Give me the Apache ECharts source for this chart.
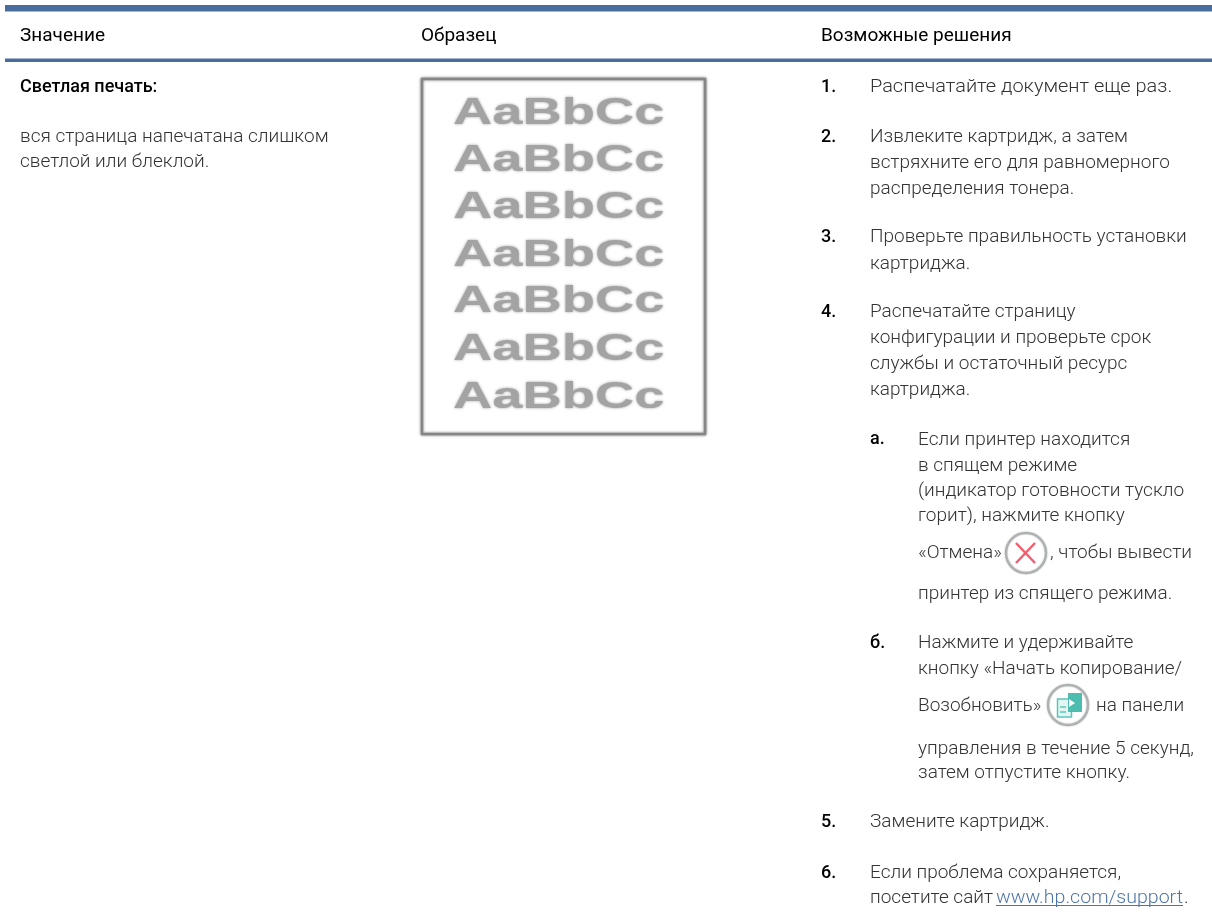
<!DOCTYPE html>
<html><head><meta charset="utf-8">
<style>html,body{margin:0;padding:0;background:#fff}#c{width:1212px;height:918px}</style>
<script src="https://cdn.jsdelivr.net/npm/echarts@6/dist/echarts.min.js"></script>
</head><body><div id="c"></div>
<script>
const headers = ['Значение','Образец','Возможные решения'];
const meaningTitle = 'Светлая печать:';
const meaningBody = ['вся страница напечатана слишком','светлой или блеклой.'];
const sampleText = 'AaBbCc';
const sampleRows = 7;
const stepMarks = ['1.','2.','3.','4.','5.','6.'];
const subMarks = ['а.','б.'];
const step1 = ['Распечатайте документ еще раз.'];
const step2 = ['Извлеките картридж, а затем','встряхните его для равномерного','распределения тонера.'];
const step3 = ['Проверьте правильность установки','картриджа.'];
const step4 = ['Распечатайте страницу','конфигурации и проверьте срок','службы и остаточный ресурс','картриджа.'];
const subA = ['Если принтер находится','в спящем режиме','(индикатор готовности тускло','горит), нажмите кнопку'];
const subA2 = ['«Отмена»',', чтобы вывести','принтер из спящего режима.'];
const subB = ['Нажмите и удерживайте','кнопку «Начать копирование/'];
const subB2 = ['Возобновить»','на панели','управления в течение 5 секунд,','затем отпустите кнопку.'];
const step5 = ['Замените картридж.'];
const step6 = ['Если проблема сохраняется,','посетите сайт '];
const linkText = 'www.hp.com/support';

const FONT = 'Roboto';
const SIZE = 19;
const INK = '#333', DARK = '#000', RULE = '#4a6d9f', LINK = '#4f74a8';
const g = [];
function T(s,x,y,o){o=o||{};const e={type:'text',x:x,y:y+1,z:5,style:{text:s,fill:o.fill||INK,font:(o.weight||300)+' '+(o.size||SIZE)+'px '+FONT,textVerticalAlign:'middle',textBaseline:'middle'}};if(o.sx)e.scaleX=o.sx;g.push(e);}
function B(s,x,y){T(s,x,y,{fill:DARK,weight:500,size:18});}
function R(x,y,w,h,fill){g.push({type:'rect',shape:{x:x,y:y,width:w,height:h},style:{fill:fill}});}
function lines(arr,x,ys,o){arr.forEach((s,i)=>T(s,x,ys[i],o));}

R(5,5,1207,6.5,RULE); R(5,58.5,1207,3.5,RULE);
const hx=[20,421,821]; headers.forEach((h,i)=>T(h,hx[i],35,{fill:DARK,weight:400}));

B(meaningTitle,20,86);
lines(meaningBody,20,[136,161]);

// sample
g.push({type:'rect',shape:{x:422,y:79,width:283,height:355},style:{fill:'#fff',stroke:'#858585',lineWidth:2.5,shadowColor:'rgba(0,0,0,0.45)',shadowBlur:3}});
const sampleY=[113,160,207,255,301,349,397];
for(let i=0;i<sampleRows;i++){g.push({type:'text',x:453,y:sampleY[i]+1,scaleX:1.47,z:4,style:{text:sampleText,fill:'#a3a3a3',font:'bold 37px "Liberation Sans"',textBaseline:'middle',textVerticalAlign:'middle',textShadowColor:'#a3a3a3',textShadowBlur:3}});}

// steps
const nx=821,tx=870,stx=918;
[86,136,236,311,821,872].forEach((y,i)=>B(stepMarks[i],nx,y));
lines(step1,tx,[86],{sx:1.05});
lines(step2,tx,[136,162,188]);
lines(step3,tx,[236,263]);
lines(step4,tx,[311,337,363,389]);
B(subMarks[0],tx,438); B(subMarks[1],tx,642);
lines(subA,stx,[439,465,490,515]);
T(subA2[0],stx,552);T(subA2[1],1050,552);T(subA2[2],stx,593);
lines(subB,stx,[642,668]);
T(subB2[0],stx,705);T(subB2[1],1096,705);lines(subB2.slice(2),stx,[748,772]);
lines(step5,tx,[821]);
lines(step6,tx,[872,897]);
T(linkText,996,897,{fill:LINK,sx:1.03});
T('.',1184,897);
R(996,905,187,1,LINK);

// cancel icon
g.push({type:'circle',shape:{cx:1026,cy:553,r:20},style:{fill:'#fff',stroke:'#aeb2b2',lineWidth:2.5,shadowColor:'rgba(0,0,0,0.2)',shadowBlur:2}});
g.push({type:'line',shape:{x1:1016,y1:543,x2:1035,y2:563},style:{stroke:'#f25f6e',lineWidth:2.5}});
g.push({type:'line',shape:{x1:1035,y1:543,x2:1016,y2:563},style:{stroke:'#f25f6e',lineWidth:2.5}});
// copy icon
g.push({type:'circle',shape:{cx:1068,cy:705,r:20},style:{fill:'#fff',stroke:'#aeb2b2',lineWidth:2.5,shadowColor:'rgba(0,0,0,0.2)',shadowBlur:2}});
g.push({type:'rect',shape:{x:1057.5,y:699,width:14,height:18},style:{fill:'#e2f5f2',stroke:'#5cc4b8',lineWidth:1.5}});
g.push({type:'line',shape:{x1:1060,y1:707,x2:1066,y2:707},style:{stroke:'#5cc4b8',lineWidth:1.5}});
g.push({type:'line',shape:{x1:1060,y1:712,x2:1066,y2:712},style:{stroke:'#5cc4b8',lineWidth:1.5}});
R(1068,693,14,19,'#4dbdb0');
g.push({type:'polygon',shape:{points:[[1069,699],[1075,703],[1069,707]]},style:{fill:'#fff'}});

const chart=echarts.init(document.getElementById('c'),null,{renderer:'canvas'});
chart.setOption({animation:false,backgroundColor:'#fff',graphic:{elements:g}});
</script></body></html>
